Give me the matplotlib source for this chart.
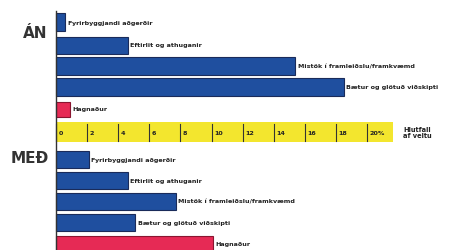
import matplotlib
matplotlib.use("Agg")
import matplotlib.pyplot as plt

# ---- data ----
categories = ["Fyrirbyggjandi aðgerðir", "Eftirlit og athuganir",
              "Mistök í framleiðslu/framkvæmd", "Bætur og glötuð viðskipti",
              "Hagnaður"]
an_values = [0.6, 4.6, 15.4, 18.5, 0.9]    # ÁN (án gæðastjórnunar)
med_values = [2.1, 4.6, 7.7, 5.1, 10.1]    # MEÐ
tick_values = [0, 2, 4, 6, 8, 10, 12, 14, 16, 18, 20]
tick_labels = ["0", "2", "4", "6", "8", "10", "12", "14", "16", "18", "20%"]
group_labels = ["ÁN", "MEÐ"]
axis_title = "Hlutfall\naf veltu"

# ---- style ----
BLUE = "#1f4f9f"
EDGE = "#1a2b5a"
PINK = "#e62a55"
YELLOW = "#f3e62e"
TXT = "#222222"
W, H = 449, 251
px0, pxu = 56, 15.55   # pixel of 0 % and pixels per 1 %

fig = plt.figure(figsize=(W / 100, H / 100), dpi=100)
ax = fig.add_axes([0, 0, 1, 1])
ax.set_xlim(-px0 / pxu, (W - px0) / pxu)
ax.set_ylim(H, 0)
ax.axis("off")

lab_font = dict(family=["DejaVu Sans"], fontsize=4.6, fontweight="bold",
                color=TXT, va="center", ha="left")
gap = 2.5 / pxu

def draw_group(values, centers, heights):
    for i, (cat, v) in enumerate(zip(categories, values)):
        col = PINK if i == len(categories) - 1 else BLUE
        ec = "#8a1530" if col == PINK else EDGE
        ax.barh(centers[i], v, height=heights[i], left=0, color=col,
                edgecolor=ec, linewidth=0.8, zorder=3)
        ax.text(v + gap, centers[i], cat, zorder=4, **lab_font)

an_centers = [23, 46, 67, 88, 110]
an_heights = [18, 17, 18, 18, 15]
med_centers = [160.5, 181.5, 202.5, 223.5, 245]
med_heights = [17, 17, 17, 17, 17]

draw_group(an_values, an_centers, an_heights)
draw_group(med_values, med_centers, med_heights)

# yellow scale band
band_top, band_bot = 123, 143
ax.fill_between([0, (393 - px0) / pxu], band_top, band_bot, color=YELLOW,
                lw=0, zorder=1)
for v, lab in zip(tick_values, tick_labels):
    ax.plot([v, v], [band_top + 2, band_bot - 1.5], color="#333333", lw=0.8,
            zorder=2)
    ax.text(v + gap, (band_top + band_bot) / 2 + 0.5, lab, family=["DejaVu Sans"],
            fontsize=4.6, fontweight="bold", color=TXT, va="center",
            ha="left", zorder=2)
ax.text((403 - px0) / pxu, (band_top + band_bot) / 2, axis_title,
        family=["DejaVu Sans"], fontsize=4.8, fontweight="bold", color=TXT,
        va="center", ha="left", linespacing=1.1)

# vertical axis line
ax.plot([0, 0], [12, H], color="#333333", lw=1.0, zorder=5)

# group labels
ax.text((35 - px0) / pxu, 33, group_labels[0], fontsize=11, fontweight="bold",
        color="#333333", ha="center", va="center")
ax.text((30 - px0) / pxu, 159, group_labels[1], fontsize=11, fontweight="bold",
        color="#333333", ha="center", va="center")

fig.savefig("out.png", dpi=100, facecolor="white")
